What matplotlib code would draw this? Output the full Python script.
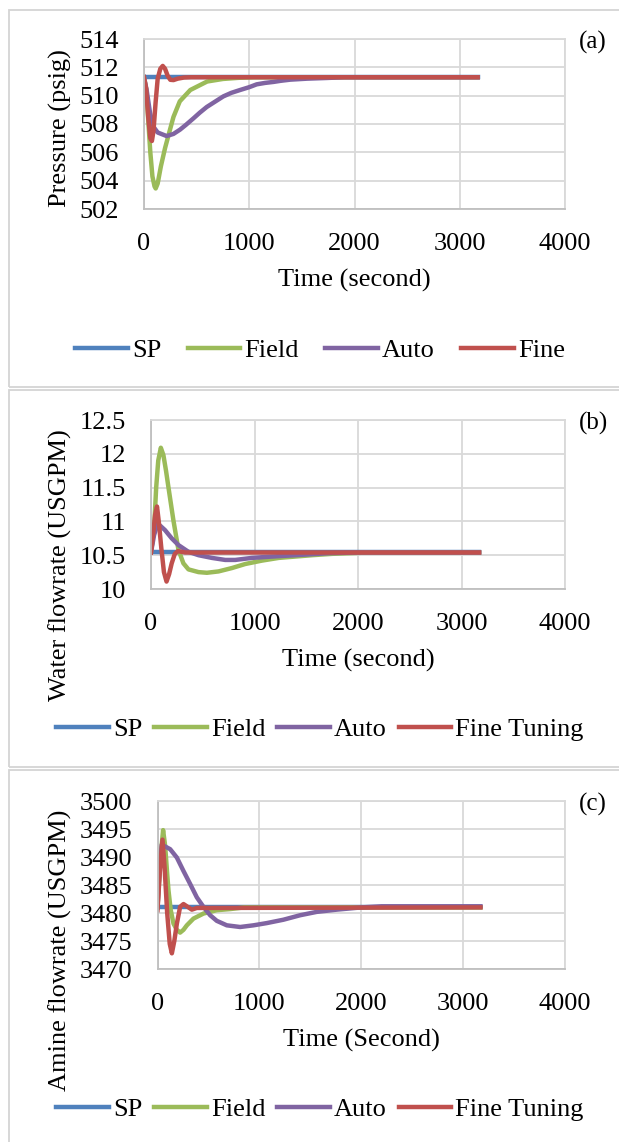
import numpy as np
import matplotlib
matplotlib.use('Agg')
import matplotlib.pyplot as plt
from matplotlib.patches import Rectangle

plt.rcParams['font.family'] = ['Liberation Serif', 'DejaVu Serif']

COLORS = {'SP': '#4F81BD', 'Field': '#9BBB59', 'Auto': '#8064A2', 'Fine': '#C0504D'}
GRID = '#D9D9D9'
FS = 19
LW = 3.2

# ---- panel (a): pressure ----
t_end = 3170
a_sp = 511.3
a_field_t = [0, 20, 40, 60, 80, 100, 111, 130, 160, 200, 247, 280, 340, 440, 600, 750, 900, 1050, 1300, t_end]
a_field = [511.3, 510.5, 508.3, 506.0, 504.3, 503.6, 503.45, 503.8, 505.0, 506.3, 507.6, 508.5, 509.6,
           510.4, 511.0, 511.18, 511.26, 511.3, 511.3, 511.3]
a_auto_t = [0, 25, 57, 90, 130, 215, 280, 342, 400, 470, 530, 596, 680, 754, 830, 913, 1000, 1071, 1150,
            1230, 1300, 1390, 1550, 1740, 1900, t_end]
a_auto = [511.3, 510.4, 508.8, 507.8, 507.4, 507.15, 507.3, 507.6, 507.95, 508.4, 508.8, 509.2, 509.6,
          509.95, 510.2, 510.4, 510.6, 510.8, 510.9, 510.97, 511.05, 511.13, 511.2, 511.25, 511.3, 511.3]
a_fine_t = [0, 20, 40, 60, 75, 90, 110, 130, 155, 178, 200, 225, 250, 280, 320, 380, 450, t_end]
a_fine = [511.3, 510.5, 508.5, 507.0, 506.8, 507.5, 509.5, 511.2, 511.9, 512.1, 511.9, 511.4, 511.12,
          511.1, 511.2, 511.28, 511.3, 511.3]

# ---- panel (b): water flowrate ----
b_sp = 10.54
b_field_t = [0, 30, 50, 70, 95, 120, 145, 168, 216, 265, 313, 362, 459, 540, 652, 782, 911, 1072, 1234,
             1395, 1557, 1751, 2100, t_end]
b_field = [10.54, 10.9, 11.5, 11.9, 12.09, 11.98, 11.75, 11.51, 11.02, 10.58, 10.38, 10.29, 10.25, 10.24,
           10.26, 10.31, 10.37, 10.42, 10.46, 10.48, 10.5, 10.52, 10.54, 10.54]
b_auto_t = [0, 30, 65, 136, 200, 265, 362, 459, 588, 717, 814, 975, 1169, 1395, 1718, 2000, t_end]
b_auto = [10.54, 10.8, 10.97, 10.87, 10.75, 10.65, 10.55, 10.5, 10.46, 10.43, 10.43, 10.46, 10.48, 10.5,
          10.53, 10.54, 10.54]
b_fine_t = [0, 20, 40, 58, 75, 100, 125, 150, 175, 200, 230, 260, 330, t_end]
b_fine = [10.54, 10.8, 11.1, 11.22, 11.0, 10.6, 10.25, 10.11, 10.22, 10.38, 10.52, 10.56, 10.54, 10.54]

# ---- panel (c): amine flowrate ----
c_sp = 3481
c_field_t = [0, 30, 55, 75, 95, 108, 130, 157, 190, 222, 255, 288, 353, 451, 582, 713, 850, t_end]
c_field = [3481, 3490, 3494.8, 3492, 3487, 3484, 3480.5, 3478.1, 3477, 3476.5, 3477, 3477.8, 3479,
           3479.9, 3480.5, 3480.7, 3481, 3481]
c_auto_t = [0, 20, 42, 124, 190, 255, 320, 386, 451, 517, 582, 680, 811, 942, 1073, 1236, 1400, 1563,
            1760, 2000, 2200, t_end]
c_auto = [3481, 3488, 3492.2, 3491.4, 3489.9, 3487.5, 3485.2, 3482.8, 3481.1, 3479.6, 3478.6, 3477.8,
          3477.5, 3477.8, 3478.2, 3478.8, 3479.6, 3480.2, 3480.6, 3481, 3481.2, 3481.2]
c_fine_t = [0, 25, 49, 70, 95, 120, 141, 165, 190, 222, 255, 288, 337, 386, t_end]
c_fine = [3480.5, 3488, 3493.1, 3488, 3480, 3474.5, 3472.8, 3475, 3478.1, 3481.1, 3481.6, 3481.2,
          3480.6, 3480.9, 3481]

panels = [
    dict(tag='(a)', ylabel='Pressure (psig)', xlabel='Time (second)',
         yticks=[502, 504, 506, 508, 510, 512, 514], ylabels=None,
         sp=a_sp, series=[(a_field_t, a_field), (a_auto_t, a_auto), (a_fine_t, a_fine)],
         names=['SP', 'Field', 'Auto', 'Fine'],
         box=[144, 39, 565, 209], ylab_y=128, xlab_y=280, leg_y=350, colsp=1.0, frame=(10, 387)),
    dict(tag='(b)', ylabel='Water flowrate (USGPM)', xlabel='Time (second)',
         yticks=[10, 10.5, 11, 11.5, 12, 12.5], ylabels=['10', '10.5', '11', '11.5', '12', '12.5'],
         sp=b_sp, series=[(b_field_t, b_field), (b_auto_t, b_auto), (b_fine_t, b_fine)],
         names=['SP', 'Field', 'Auto', 'Fine Tuning'],
         box=[151, 420, 565, 589], ylab_y=565, xlab_y=660, leg_y=729, colsp=0.45, frame=(390, 767)),
    dict(tag='(c)', ylabel='Amine flowrate (USGPM)', xlabel='Time (Second)',
         yticks=[3470, 3475, 3480, 3485, 3490, 3495, 3500], ylabels=None,
         sp=c_sp, series=[(c_field_t, c_field), (c_auto_t, c_auto), (c_fine_t, c_fine)],
         names=['SP', 'Field', 'Auto', 'Fine Tuning'],
         box=[157.5, 801, 565, 969], ylab_y=950, xlab_y=1040, leg_y=1109, colsp=0.45, frame=(770, 1160)),
]

W, H = 619, 1142
fig = plt.figure(figsize=(W / 100, H / 100), dpi=100)

for p in panels:
    # panel frame (open on the right like the source)
    y0, y1 = p['frame']
    fig.add_artist(Rectangle((9 / W, 1 - y1 / H), 1.2, (y1 - y0) / H, transform=fig.transFigure,
                             fill=False, edgecolor='#D4D4D4', lw=1.3))

    l, t, r, b = p['box']
    ax = fig.add_axes([l / W, 1 - b / H, (r - l) / W, (b - t) / H])
    lines = []
    lines += ax.plot([0, t_end], [p['sp'], p['sp']], color=COLORS['SP'], lw=LW)
    for (tt, vv), key in zip(p['series'], ['Field', 'Auto', 'Fine']):
        lines += ax.plot(tt, vv, color=COLORS[key], lw=LW)

    ax.set_xlim(0, 4000)
    ax.set_xticks([0, 1000, 2000, 3000, 4000])
    ax.set_ylim(p['yticks'][0], p['yticks'][-1])
    ax.set_yticks(p['yticks'])
    if p['ylabels']:
        ax.set_yticklabels(p['ylabels'])
    ax.grid(True, color=GRID, lw=1.3)
    ax.set_axisbelow(True)
    for side in ['top', 'right']:
        ax.spines[side].set_color(GRID)
        ax.spines[side].set_linewidth(1.3)
    for side in ['left', 'bottom']:
        ax.spines[side].set_color('#BFBFBF')
        ax.spines[side].set_linewidth(1.3)
    ax.tick_params(length=0, labelsize=FS)
    ax.tick_params(axis='x', pad=17)
    ax.tick_params(axis='y', pad=18)

    fig.text(60 / W, 1 - p['ylab_y'] / H, p['ylabel'], rotation=90, ha='center', va='center', fontsize=FS)
    fig.text((l + r) / 2 / W, 1 - p['xlab_y'] / H, p['xlabel'], ha='center', va='center', fontsize=FS)
    fig.text(593 / W, 1 - (t + 3) / H, p['tag'], ha='center', va='center', fontsize=FS - 1)

    fig.legend(lines, p['names'], loc='center', bbox_to_anchor=(320 / W, 1 - p['leg_y'] / H), ncol=4,
               frameon=False, fontsize=FS, handlelength=2.0, handletextpad=0.15,
               columnspacing=p['colsp'], borderaxespad=0, borderpad=0)

fig.savefig('out.png', dpi=100)
